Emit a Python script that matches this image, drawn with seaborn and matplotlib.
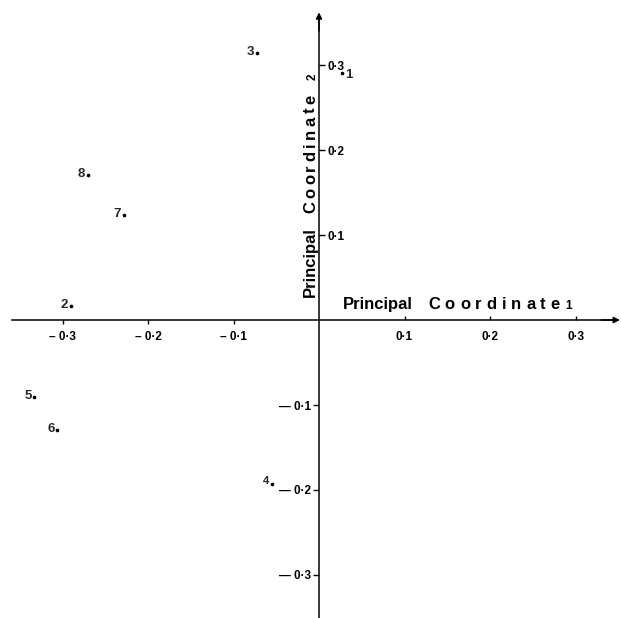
import matplotlib
matplotlib.use("Agg")
import matplotlib.pyplot as plt
from matplotlib.font_manager import FontProperties
import seaborn as sns
import pandas as pd

# ---- data ----
labels = ["1", "2", "3", "4", "5", "6", "7", "8"]
pc1 = [0.027, -0.290, -0.073, -0.055, -0.333, -0.306, -0.228, -0.270]
pc2 = [0.291, 0.016, 0.314, -0.193, -0.091, -0.129, 0.124, 0.171]
tick_vals = [-0.3, -0.2, -0.1, 0.1, 0.2, 0.3]

def fmt(v, dash):
    s = f"{abs(v):.1f}".replace(".", "\u00b7")
    return (dash + " " + s) if v < 0 else s

xtick_labels = [fmt(v, "\u2013") for v in tick_vals]
ytick_labels = [fmt(v, "\u2014") for v in tick_vals]

df = pd.DataFrame({"pc1": pc1, "pc2": pc2, "lab": labels})

sns.set_style("white")
plt.rcParams["font.family"] = ["Liberation Sans", "DejaVu Sans"]

fig = plt.figure(figsize=(6.21, 6.18), dpi=100)
ax = fig.add_axes([0, 0, 1, 1])
ax.set_facecolor("white")

sns.scatterplot(data=df, x="pc1", y="pc2", ax=ax, color="black", s=7,
                edgecolor="black", linewidth=0, legend=False)

ax.set_xlim(-0.3731, 0.3532)
ax.set_ylim(-0.3506, 0.3765)
ax.set_xlabel("")
ax.set_ylabel("")

for sp in ["left", "right", "bottom", "top"]:
    ax.spines[sp].set_position(("data", 0))
ax.spines["right"].set_visible(False)
ax.spines["top"].set_visible(False)
ax.spines["left"].set_bounds(-0.3506, 0.355)
ax.spines["bottom"].set_bounds(-0.359, 0.345)
for sp in ["left", "bottom"]:
    ax.spines[sp].set_linewidth(1.1)
    ax.spines[sp].set_color("black")

ax.set_xticks(tick_vals, xtick_labels)
ax.set_yticks(tick_vals, ytick_labels)
ax.tick_params(axis="both", which="major", direction="out", length=3,
               width=1.0, color="black", labelsize=8.5, labelcolor="black",
               bottom=True, top=True, left=True, right=True,
               labelbottom=True, labelleft=True, labelright=True, labeltop=False)
ax.tick_params(axis="x", pad=5)
ax.tick_params(axis="y", pad=2, length=4)

for lab in ax.get_xticklabels() + ax.get_yticklabels():
    lab.set_fontweight("bold")

# arrows at ends of axes
ax.annotate("", xy=(0.352, 0), xytext=(0.33, 0),
            arrowprops=dict(arrowstyle="-|>", color="black", lw=1.1,
                            mutation_scale=9, shrinkA=0, shrinkB=0))
ax.annotate("", xy=(0, 0.362), xytext=(0, 0.34),
            arrowprops=dict(arrowstyle="-|>", color="black", lw=1.1,
                            mutation_scale=9, shrinkA=0, shrinkB=0))

# axis titles
renderer = fig.canvas.get_renderer()
title_fp = FontProperties(family=["Liberation Sans", "DejaVu Sans"],
                          weight="bold", size=12)

def tracked(word, x0, y0, total_px, vertical=False):
    widths = [renderer.get_text_width_height_descent(c, title_fp, ismath=False)[0]
              for c in word]
    gap = (total_px - sum(widths)) / (len(word) - 1)
    off = 0.0
    for c, w in zip(word, widths):
        xy = (0, off) if vertical else (off, 0)
        ax.annotate(c, (x0, y0), xytext=xy, textcoords="offset pixels",
                    rotation=90 if vertical else 0, rotation_mode="anchor",
                    ha="left", va="baseline", fontproperties=title_fp,
                    color="black")
        off += w + gap

tkw = dict(fontproperties=title_fp, color="black")
ax.text(0.028, 0.013, "Principal", ha="left", va="baseline", **tkw)
tracked("Coordinate", 0.1275, 0.013, 132)
ax.text(0.2877, 0.013, "1", ha="left", va="baseline", fontsize=8.5,
        fontweight="bold", color="black")
ax.text(-0.0045, 0.027, "Principal", rotation=90, rotation_mode="anchor",
        ha="left", va="baseline", **tkw)
tracked("Coordinate", -0.0045, 0.126, 118, vertical=True)
ax.text(-0.0045, 0.282, "2", rotation=90, rotation_mode="anchor",
        ha="left", va="baseline", fontsize=8.5, fontweight="bold", color="black")

# point labels
for lab, x, y in zip(labels, pc1, pc2):
    if lab == "1":
        ax.annotate(lab, (x, y), xytext=(2, -1.5), textcoords="offset points",
                    ha="left", va="center", fontsize=9.5, fontweight="bold")
    elif lab == "4":
        ax.annotate(lab, (x, y), xytext=(-2, 0), textcoords="offset points",
                    ha="right", va="baseline", fontsize=8, fontweight="bold")
    else:
        ax.annotate(lab, (x, y), xytext=(-2, -1.5), textcoords="offset points",
                    ha="right", va="baseline", fontsize=9.5, fontweight="bold")

# per-tick placement
for t, v in zip(ax.xaxis.get_major_ticks(), tick_vals):
    t.label2.set_visible(False)
    if v < 0:
        t.tick2line.set_visible(False)
    else:
        t.tick1line.set_visible(False)
for t, v in zip(ax.yaxis.get_major_ticks(), tick_vals):
    if v < 0:
        t.tick2line.set_visible(False)
        t.label2.set_visible(False)
    else:
        t.tick1line.set_visible(False)
        t.label1.set_visible(False)

fig.savefig("out.png", dpi=100, facecolor="white")
